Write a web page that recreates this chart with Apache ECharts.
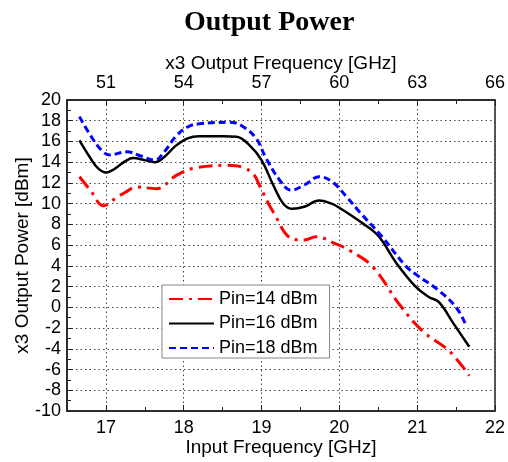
<!DOCTYPE html>
<html>
<head>
<meta charset="utf-8">
<script src="https://cdn.jsdelivr.net/npm/echarts@6/dist/echarts.min.js"></script>
<style>html,body{margin:0;padding:0;background:#fff}#c{width:508px;height:462px}</style>
</head>
<body>
<div id="c"></div>
<script>
var seriesNames = ['Pin=14 dBm', 'Pin=16 dBm', 'Pin=18 dBm'];
var pin14 = [[16.66,12.6],[16.8,11.3],[16.97,9.8],[17.14,10.6],[17.25,11.1],[17.39,11.6],[17.65,11.45],[17.9,12.7],[18.12,13.4],[18.55,13.7],[18.76,13.5],[18.9,12.8],[18.97,11.8],[19.15,9.2],[19.4,6.6],[19.55,6.5],[19.7,6.8],[19.96,6.1],[20.13,5.5],[20.43,3.9],[20.77,0.3],[21.07,-2.3],[21.41,-4.2],[21.67,-6.6]];
var pin16 = [[16.66,16.1],[16.8,14.4],[16.9,13.4],[17.0,13.0],[17.1,13.3],[17.25,14.1],[17.35,14.4],[17.5,14.2],[17.63,14.0],[17.75,14.5],[17.9,15.6],[18.05,16.3],[18.2,16.5],[18.5,16.5],[18.68,16.45],[18.85,15.6],[19.0,14.2],[19.15,11.8],[19.28,10.0],[19.4,9.5],[19.55,9.7],[19.74,10.3],[19.9,10.0],[20.0,9.6],[20.3,8.1],[20.5,6.9],[20.73,4.3],[20.98,2.0],[21.15,1.0],[21.28,0.5],[21.47,-1.6],[21.67,-3.8]];
var pin18 = [[16.66,18.4],[16.8,16.6],[16.95,15.1],[17.05,14.7],[17.27,15.0],[17.45,14.6],[17.63,14.2],[17.75,15.0],[17.9,16.5],[18.05,17.4],[18.2,17.7],[18.59,17.85],[18.75,17.5],[18.93,16.3],[19.05,14.5],[19.23,12.3],[19.38,11.3],[19.55,11.8],[19.74,12.6],[19.91,12.1],[20.1,10.6],[20.26,9.2],[20.55,6.8],[20.85,4.0],[20.98,3.2],[21.28,1.6],[21.5,0.0],[21.62,-1.6]];
var titleText = 'Output Power';
var xName = 'Input Frequency [GHz]';
var x2Name = 'x3 Output Frequency [GHz]';
var yName = 'x3 Output Power [dBm]';

var font = 'Liberation Sans, Arial, sans-serif';
var chart = echarts.init(document.getElementById('c'), null, {renderer: 'canvas'});
var intOnly = function (v) { return Math.abs(v - Math.round(v)) < 1e-6 ? String(Math.round(v)) : ''; };
var mult3 = function (v) { return Math.abs(v / 3 - Math.round(v / 3)) < 1e-6 ? String(Math.round(v)) : ''; };
var gridLine = {show: true, lineStyle: {color: '#444', type: [1.5, 3], width: 1}};
chart.setOption({
  animation: false,
  title: {text: titleText, left: 179, top: 4, textStyle: {fontFamily: 'Liberation Serif, Times New Roman, serif', fontWeight: 'bold', fontSize: 28, color: '#000'}},
  grid: {left: 67, right: 10, top: 100, bottom: 51, show: true, borderColor: '#222', borderWidth: 1.5, backgroundColor: 'transparent'},
  legend: {
    orient: 'vertical', left: 162, top: 285, data: seriesNames,
    itemWidth: 45, itemHeight: 14, itemGap: 4.5,
    padding: [4, 12, 0, 6],
    borderColor: '#888', borderWidth: 1, backgroundColor: '#fff',
    itemStyle: {opacity: 0},
    textStyle: {fontFamily: font, fontSize: 18, color: '#000', lineHeight: 20}
  },
  xAxis: [
    {type: 'value', position: 'bottom', min: 16.5, max: 22, splitNumber: 5,
     name: xName, nameLocation: 'middle', nameGap: 27, nameMoveOverlap: false,
     nameTextStyle: {fontFamily: font, fontSize: 19, color: '#000'},
     axisLine: {show: true, onZero: false, lineStyle: {color: '#222', width: 1.5}},
     axisTick: {show: true, inside: true, length: 6, lineStyle: {color: '#222'}},
     axisLabel: {formatter: intOnly, fontFamily: font, fontSize: 18, color: '#000', margin: 8},
     splitLine: gridLine},
    {type: 'value', position: 'top', min: 49.5, max: 66, splitNumber: 5,
     name: x2Name, nameLocation: 'middle', nameGap: 27, nameMoveOverlap: false,
     nameTextStyle: {fontFamily: font, fontSize: 19, color: '#000'},
     axisLine: {show: true, onZero: false, lineStyle: {color: '#222', width: 1.5}},
     axisTick: {show: true, inside: true, length: 6, lineStyle: {color: '#222'}},
     axisLabel: {formatter: mult3, fontFamily: font, fontSize: 18, color: '#000', margin: 8},
     splitLine: {show: false}},
    {type: 'value', position: 'bottom', min: 16.5, max: 22, interval: 0.5,
     axisLine: {show: false, onZero: false}, axisLabel: {show: false}, splitLine: {show: false},
     axisTick: {show: true, inside: true, length: 4, lineStyle: {color: '#222'}}},
    {type: 'value', position: 'top', min: 49.5, max: 66, interval: 1.5,
     axisLine: {show: false, onZero: false}, axisLabel: {show: false}, splitLine: {show: false},
     axisTick: {show: true, inside: true, length: 4, lineStyle: {color: '#222'}}}
  ],
  yAxis: {type: 'value', min: -10, max: 20, interval: 2,
    name: yName, nameLocation: 'middle', nameGap: 35, nameMoveOverlap: false,
    nameTextStyle: {fontFamily: font, fontSize: 19, color: '#000'},
    axisLine: {show: true, onZero: false, lineStyle: {color: '#222', width: 1.5}},
    axisTick: {show: true, inside: true, length: 6, lineStyle: {color: '#222'}},
    minorTick: {show: true, splitNumber: 2, length: 4, lineStyle: {color: '#222'}},
    axisLabel: {fontFamily: font, fontSize: 18, color: '#000', margin: 6},
    splitLine: gridLine},
  series: [
    {name: seriesNames[0], type: 'line', data: pin14, xAxisIndex: 0, smooth: 0.4, symbol: 'none',
     lineStyle: {color: '#ff0000', width: 3, type: [14, 6, 3, 6]}, itemStyle: {color: '#ff0000'}},
    {name: seriesNames[1], type: 'line', data: pin16, xAxisIndex: 0, smooth: 0.4, symbol: 'none',
     lineStyle: {color: '#000000', width: 2.5, type: 'solid'}, itemStyle: {color: '#000'}},
    {name: seriesNames[2], type: 'line', data: pin18, xAxisIndex: 0, smooth: 0.4, symbol: 'none',
     lineStyle: {color: '#0000ff', width: 3, type: [7, 4]}, itemStyle: {color: '#0000ff'}}
  ]
});
</script>
</body>
</html>
